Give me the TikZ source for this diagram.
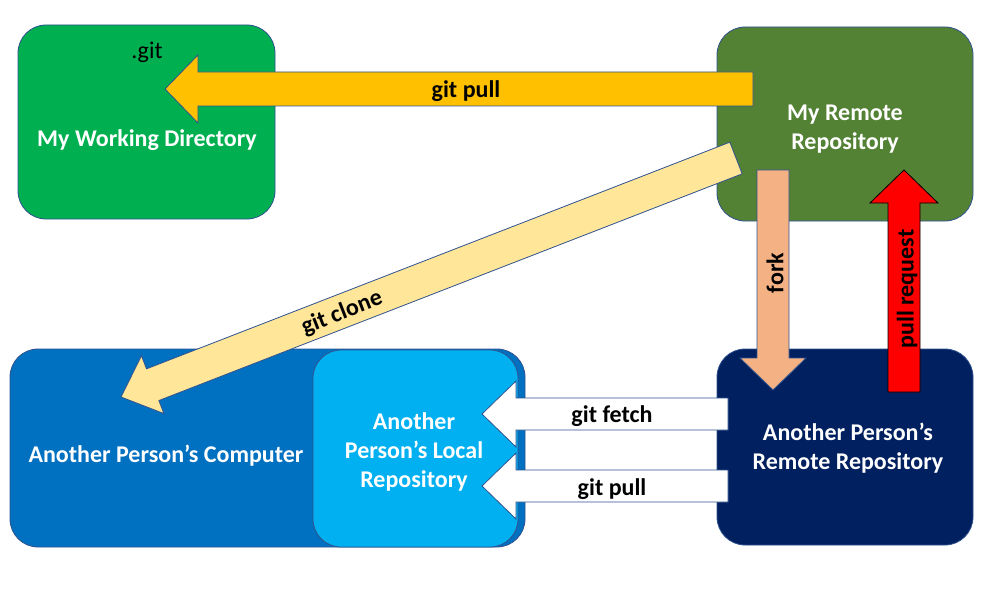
\documentclass[tikz,border=0pt]{standalone}
\usepackage{fontspec}
\setmainfont{Carlito}
\usetikzlibrary{calc}
\definecolor{wdgreen}{HTML}{00B050}
\definecolor{remgreen}{HTML}{548235}
\definecolor{navy}{HTML}{002060}
\definecolor{compblue}{HTML}{0070C0}
\definecolor{localblue}{HTML}{00B0F0}
\definecolor{edgeblue}{HTML}{2F528F}
\definecolor{gold}{HTML}{FFC000}
\definecolor{lightgold}{HTML}{FFE699}
\definecolor{peach}{HTML}{F4B183}
\newcommand{\blkarrow}[6]{%
  \coordinate (ba-base) at ($(#3)!#6!(#2)$);
  \draw[#1] ($(#2)!#4!90:(#3)$) -- ($(ba-base)!#4!90:(#3)$) -- ($(ba-base)!#5!90:(#3)$) -- (#3)
    -- ($(ba-base)!#5!-90:(#3)$) -- ($(ba-base)!#4!-90:(#3)$) -- ($(#2)!#4!-90:(#3)$) -- cycle;
}
\tikzset{
  box/.style={draw=edgeblue, line width=0.8pt, rounded corners=28pt, inner sep=0pt},
  wlbl/.style={text=white, font=\bfseries\fontsize{24}{29}\selectfont, align=center},
  albl/.style={text=black, font=\bfseries\fontsize{24}{29}\selectfont, align=center},
  arw/.style={draw=edgeblue, line width=0.8pt, line join=miter},
}
\begin{document}
\begin{tikzpicture}[x=1pt,y=-1pt]
\useasboundingbox (0,0) rectangle (989,594);
% boxes
\node[box, fill=wdgreen, minimum width=257pt, minimum height=194pt] (wd) at (146.5,122) {};
\node[box, fill=remgreen, minimum width=256pt, minimum height=194pt] (rem) at (845,124) {};
\node[box, fill=compblue, minimum width=515pt, minimum height=198pt] (comp) at (267.5,448) {};
\node[box, fill=localblue, minimum width=205pt, minimum height=197pt] (local) at (415.5,448.5) {};
\node[box, fill=navy, minimum width=256pt, minimum height=196pt] (arem) at (845,447) {};
% box texts
\node[font=\fontsize{24}{29}\selectfont] (dotgit) at (147,52) {.git};
\node[wlbl] (wdl) at (147,140.5) {My Working Directory};
\node[wlbl] (reml) at (845,129) {My Remote\\Repository};
\node[wlbl] (compl) at (166,455.5) {Another Person’s Computer};
\node[wlbl] (locl) at (414,452) {Another\\Person’s Local\\Repository};
\node[wlbl] (areml) at (848,448.5) {Another Person’s\\Remote Repository};
% arrow end points
\coordinate (pullT) at (753,89);  \coordinate (pullP) at (165,89);
\coordinate (cloneT) at (736,158); \coordinate (cloneP) at (121,397);
\coordinate (forkT) at (773,170); \coordinate (forkP) at (773,390);
\coordinate (prT) at (904,392); \coordinate (prP) at (904,170);
\coordinate (fetchT) at (728,414); \coordinate (fetchP) at (482,414);
\coordinate (lpullT) at (728,486); \coordinate (lpullP) at (482,486);
% arrows
\blkarrow{arw, fill=gold}{pullT}{pullP}{17pt}{34pt}{33pt}
\blkarrow{arw, fill=lightgold}{cloneT}{cloneP}{17pt}{31pt}{34pt}
\blkarrow{arw, fill=peach}{forkT}{forkP}{16pt}{33pt}{32pt}
\blkarrow{draw=black, line width=0.8pt, fill=red}{prT}{prP}{16pt}{34pt}{33pt}
\blkarrow{arw, fill=white}{fetchT}{fetchP}{16pt}{33pt}{34pt}
\blkarrow{arw, fill=white}{lpullT}{lpullP}{16pt}{33pt}{34pt}
% arrow labels
\node[albl] (tpull) at (466,91) {git pull};
\node[albl, rotate=21.3] (tclone) at (342,313) {git clone};
\node[albl, rotate=90] (tfork) at (775,273) {fork};
\node[albl, rotate=90] (tpr) at (907,289) {pull request};
\node[albl] (tfetch) at (612,416.5) {git fetch};
\node[albl] (tlpull) at (612,489) {git pull};
\end{tikzpicture}
\end{document}
